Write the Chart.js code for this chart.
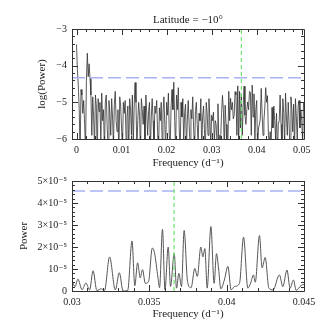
<!DOCTYPE html>
<html>
<head>
<meta charset="utf-8">
<script src="https://cdn.jsdelivr.net/npm/chart.js@4/dist/chart.umd.min.js"></script>
<style>
  html, body { margin: 0; padding: 0; background: #fff; }
  #top { position: absolute; left: 0; top: 0; width: 332px; height: 175px; }
  #bot { position: absolute; left: 0; top: 170px; width: 332px; height: 162px; }
</style>
</head>
<body>
<div id="top"><canvas id="topChart"></canvas></div>
<div id="bot"><canvas id="botChart"></canvas></div>
<script>
// top panel: log(Power) sampled every 0.0002 d^-1 from 0
const topStep = 0.0002;
const topLogPower = [
  -3.42, -4.1, -4.55, -5.2, -6.4, -4.65, -4.8, -5.3, -4.95, -5.6,
  -6.3, -4.4, -3.66, -4.3, -3.95, -4.35, -4.8, -5.9, -4.85, -5.4,
  -6.2, -4.8, -5.1, -6.5, -4.9, -5.25, -5.0, -6.1, -4.75, -5.5,
  -5.2, -6.4, -5.0, -4.8, -5.6, -6.3, -4.95, -5.3, -5.9, -4.9,
  -5.4, -6.2, -5.05, -4.7, -5.5, -5.8, -5.2, -6.5, -4.85, -5.1,
  -5.7, -6.3, -5.0, -5.3, -4.95, -6.0, -5.4, -5.1, -6.4, -4.9,
  -5.2, -5.9, -4.8, -6.2, -5.1, -4.46, -5.0, -6.3, -5.5, -5.0,
  -5.35, -6.4, -4.9, -5.2, -5.6, -5.1, -6.1, -4.8, -5.3, -5.9,
  -5.25, -5.0, -6.3, -5.4, -4.9, -5.5, -6.2, -5.1, -5.3, -4.95,
  -5.8, -6.4, -5.15, -5.5, -5.0, -6.0, -5.3, -4.85, -5.6, -6.3,
  -5.0, -5.35, -4.75, -5.9, -6.2, -5.1, -4.65, -5.2, -4.45, -5.5,
  -6.3, -4.8, -5.2, -4.6, -5.7, -6.4, -5.0, -5.4, -4.9, -6.1,
  -5.3, -5.05, -6.3, -5.5, -4.95, -5.6, -6.2, -5.2, -5.45, -4.85,
  -5.7, -6.4, -5.25, -5.0, -5.6, -6.1, -5.3, -5.5, -4.9, -6.3,
  -5.4, -5.1, -5.75, -6.4, -5.0, -5.3, -5.9, -4.9, -5.45, -6.2,
  -5.35, -5.5, -5.27, -6.1, -5.5, -5.6, -6.2, -5.04, -6.4, -5.9,
  -6.0, -5.3, -4.81, -5.2, -6.3, -5.08, -5.6, -6.5, -6.2, -4.7,
  -5.5, -4.89, -5.2, -5.0, -5.45, -5.35, -4.71, -4.8, -5.9, -4.55,
  -6.2, -4.7, -5.7, -4.77, -5.9, -5.1, -4.56, -5.35, -5.6, -5.2,
  -4.99, -5.2, -4.7, -4.73, -5.9, -4.53, -5.4, -4.77, -6.0, -5.2,
  -4.95, -6.3, -5.7, -5.6, -5.45, -4.62, -5.3, -5.9, -5.5, -5.15,
  -4.6, -5.0, -4.82, -5.9, -6.1, -5.8, -6.3, -5.14, -5.7, -5.1,
  -5.5, -6.0, -5.3, -6.4, -5.6, -5.5, -4.8, -5.6, -6.3, -4.9,
  -5.3, -6.2, -4.75, -5.4, -5.9, -5.0, -5.6, -6.4, -4.85, -5.2,
  -5.8, -5.05, -6.3, -4.9, -5.4, -6.0, -5.1, -4.95, -5.7, -5.2,
  -5.5, -6.1, -5.0
];
const topXTicks = [0, 0.01, 0.02, 0.03, 0.04, 0.05];
const topXLabels = ['0', '0.01', '0.02', '0.03', '0.04', '0.05'];
const topYTicks = [-6, -5, -4, -3];
const topYLabels = ['\u22126', '\u22125', '\u22124', '\u22123'];
const topLevel = -4.33;

// bottom panel: Power, 0.03 - 0.045 d^-1 (peaks and troughs)
const botFreq = [
  0.0300, 0.0302, 0.03038, 0.03065, 0.0309, 0.03114, 0.03136, 0.03161, 0.0319, 0.0321,
  0.03243, 0.0328, 0.03306, 0.0333, 0.0336, 0.03388, 0.03406, 0.03424, 0.03441, 0.03456,
  0.03474, 0.03495, 0.03519, 0.03533, 0.03556, 0.03566, 0.03585, 0.03601, 0.03622, 0.03637,
  0.03661, 0.03676, 0.03691, 0.03708, 0.03725, 0.03747, 0.0377, 0.03794, 0.0381, 0.03833,
  0.03846, 0.03859, 0.03874, 0.03898, 0.03919, 0.03934, 0.03948, 0.03962, 0.03985, 0.04008,
  0.04029, 0.0405, 0.04083, 0.04109, 0.04137, 0.04155, 0.04173, 0.04185, 0.04212, 0.04229,
  0.04249, 0.04273, 0.0430, 0.04341, 0.04363, 0.0439, 0.0441, 0.04432, 0.04449, 0.04481,
  0.0450
];
const botPower = [
  0.45, 0.2, 0.54, 0.06, 0.36, 0.05, 0.92, 0.02, 0.1, 0.02,
  1.55, 0.05, 0.83, 0.0, 0.02, 2.27, 0.24, 1.28, 0.6, 0.97,
  0.35, 0.43, 1.95, 1.75, 0.6, 0.15, 2.8, 0.06, 2.0, 0.21,
  1.7, 0.13, 0.8, 0.2, 2.75, 0.43, 0.15, 1.03, 0.66, 2.0,
  1.55, 1.93, 0.13, 2.93, 0.35, 1.7, 1.0, 0.1, 0.5, 1.12,
  0.05, 0.2, 0.35, 2.45, 0.13, 0.36, 0.73, 0.4, 2.52, 1.05,
  1.52, 0.13, 0.05, 0.73, 0.2, 0.95, 0.13, 0.5, 0.03, 0.25,
  0.3
].map(v => v * 1e-5);
const botXTicks = [0.03, 0.035, 0.04, 0.045];
const botXLabels = ['0.03', '0.035', '0.04', '0.045'];
const botYTicks = [0, 1e-5, 2e-5, 3e-5, 4e-5, 5e-5];
const botYLabels = ['0', '10\u207B\u2075', '2\u00D710\u207B\u2075', '3\u00D710\u207B\u2075', '4\u00D710\u207B\u2075', '5\u00D710\u207B\u2075'];
const botLevel = 4.55e-5;

const markFreq = 0.0366;

const serif = '"Liberation Serif", "DejaVu Serif", serif';
const ink = '#222';

// frame plus inward major/minor ticks on all four sides
const frameTicks = {
  id: 'frameTicks',
  afterDatasetsDraw(chart, args, opts) {
    const { ctx, chartArea: a, scales } = chart;
    ctx.save();
    ctx.strokeStyle = '#333';
    ctx.lineWidth = 1;
    ctx.beginPath();
    const minorVals = (scale, step) => {
      const out = [];
      const n0 = Math.ceil(scale.min / step - 1e-6), n1 = Math.floor(scale.max / step + 1e-6);
      for (let n = n0; n <= n1; n++) out.push(n * step);
      return out;
    };
    const hx = (vals, len) => vals.forEach(v => {
      const px = Math.round(scales.x.getPixelForValue(v)) + 0.5;
      ctx.moveTo(px, a.bottom); ctx.lineTo(px, a.bottom - len);
      ctx.moveTo(px, a.top); ctx.lineTo(px, a.top + len);
    });
    const hy = (vals, len) => vals.forEach(v => {
      const py = Math.round(scales.y.getPixelForValue(v)) + 0.5;
      ctx.moveTo(a.left, py); ctx.lineTo(a.left + len, py);
      ctx.moveTo(a.right, py); ctx.lineTo(a.right - len, py);
    });
    hx(minorVals(scales.x, opts.xMinor), 3);
    hx(opts.xMajor, 6);
    hy(minorVals(scales.y, opts.yMinor), 3);
    hy(opts.yMajor, 6);
    ctx.rect(Math.round(a.left) + 0.5, Math.round(a.top) + 0.5,
      Math.round(a.right - a.left), Math.round(a.bottom - a.top));
    ctx.stroke();
    ctx.restore();
  }
};

function axis(min, max, ticks, labels, title, titlePad, fit) {
  return {
    type: 'linear',
    min: min,
    max: max,
    grid: { display: false, drawTicks: false },
    border: { display: false },
    afterBuildTicks: s => { s.ticks = ticks.map(v => ({ value: v })); },
    afterFit: fit,
    ticks: {
      autoSkip: false,
      maxRotation: 0,
      padding: 5,
      color: ink,
      font: { family: serif, size: 10 },
      callback: (v, i) => labels[i]
    },
    title: { display: true, text: title, color: ink, font: { family: serif, size: 11 }, padding: titlePad }
  };
}

const topLine = topLogPower.map((v, i) => ({ x: i * topStep, y: v }));

new Chart(document.getElementById('topChart'), {
  type: 'line',
  data: {
    datasets: [
      { data: [{ x: markFreq, y: -6 }, { x: markFreq, y: -3 }], borderColor: '#6fe46f', borderWidth: 1.2, borderDash: [4, 3], pointRadius: 0 },
      { data: [{ x: -0.001, y: topLevel }, { x: 0.0505, y: topLevel }], borderColor: '#a8b2f4', borderWidth: 1.5, borderDash: [13, 5], pointRadius: 0 },
      { data: topLine, borderColor: 'rgba(50,50,50,0.8)', borderWidth: 1, pointRadius: 0, tension: 0 }
    ]
  },
  options: {
    responsive: true, maintainAspectRatio: false, animation: false, devicePixelRatio: 1,
    layout: { padding: { left: 0, right: 28, top: 0, bottom: 0 } },
    plugins: {
      legend: { display: false }, tooltip: { enabled: false },
      frameTicks: { xMajor: topXTicks, xMinor: 0.002, yMajor: topYTicks, yMinor: 0.2 }
    },
    scales: {
      x: axis(-0.001, 0.0505, topXTicks, topXLabels, 'Frequency (d\u207B\u00B9)', { top: 0, bottom: 5 }, s => { s.height = 36; }),
      y: axis(-6, -3, topYTicks, topYLabels, 'log(Power)', { top: 36, bottom: 0 }, s => { s.width = 72; }),
      // top edge carries the panel title, centred over the plot area
      xt: {
        type: 'linear', position: 'top', min: -0.001, max: 0.0505,
        grid: { display: false, drawTicks: false }, border: { display: false },
        ticks: { display: false },
        afterFit: s => { s.height = 29; },
        title: { display: true, text: 'Latitude = \u221210\u00B0', color: ink, font: { family: serif, size: 11 }, padding: { top: 14, bottom: 0 } }
      }
    }
  },
  plugins: [frameTicks]
});

const botLine = botFreq.map((f, i) => ({ x: f, y: botPower[i] }));

new Chart(document.getElementById('botChart'), {
  type: 'line',
  data: {
    datasets: [
      { data: [{ x: markFreq, y: 0 }, { x: markFreq, y: 5e-5 }], borderColor: '#6fe46f', borderWidth: 1.2, borderDash: [4, 3], pointRadius: 0 },
      { data: [{ x: 0.03, y: botLevel }, { x: 0.045, y: botLevel }], borderColor: '#a8b2f4', borderWidth: 1.5, borderDash: [13, 5], pointRadius: 0 },
      { data: botLine, borderColor: '#555', borderWidth: 1, pointRadius: 0, cubicInterpolationMode: 'monotone' }
    ]
  },
  options: {
    responsive: true, maintainAspectRatio: false, animation: false, devicePixelRatio: 1,
    layout: { padding: { left: 0, right: 28, top: 10, bottom: 0 } },
    plugins: {
      legend: { display: false }, tooltip: { enabled: false },
      frameTicks: { xMajor: botXTicks, xMinor: 0.001, yMajor: botYTicks, yMinor: 2e-6 }
    },
    scales: {
      x: axis(0.03, 0.045, botXTicks, botXLabels, 'Frequency (d\u207B\u00B9)', { top: 0, bottom: 11 }, s => { s.height = 41; }),
      y: axis(0, 5e-5, botYTicks, botYLabels, 'Power', { top: 18, bottom: 0 }, s => { s.width = 72; })
    }
  },
  plugins: [frameTicks]
});
</script>
</body>
</html>
